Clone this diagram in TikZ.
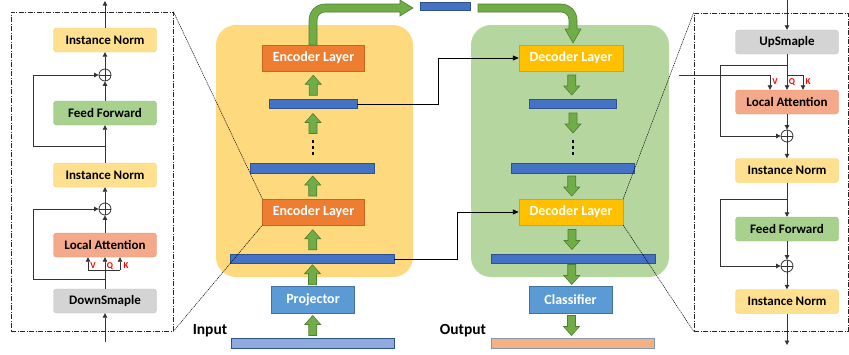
\documentclass[tikz,border=0pt]{standalone}
\usepackage{fontspec}
\setmainfont{Carlito}
\usetikzlibrary{arrows.meta}

\definecolor{encbg}{HTML}{FFD97D}
\definecolor{decbg}{HTML}{B6D6A0}
\definecolor{encc}{HTML}{ED7D31}
\definecolor{encd}{HTML}{C9651F}
\definecolor{decc}{HTML}{FFC000}
\definecolor{decd}{HTML}{D9A300}
\definecolor{barc}{HTML}{4472C4}
\definecolor{bard}{HTML}{2F528F}
\definecolor{projc}{HTML}{5B9BD5}
\definecolor{projd}{HTML}{41719C}
\definecolor{inc}{HTML}{8FAADC}
\definecolor{outc}{HTML}{F4B183}
\definecolor{outd}{HTML}{8497B0}
\definecolor{garc}{HTML}{70AD47}
\definecolor{gard}{HTML}{507E32}
\definecolor{normc}{HTML}{FFE08E}
\definecolor{normd}{HTML}{F5CC6A}
\definecolor{ffc}{HTML}{A9D18E}
\definecolor{ffd}{HTML}{92C177}
\definecolor{lac}{HTML}{F4A98A}
\definecolor{lad}{HTML}{EB9878}
\definecolor{smc}{HTML}{D4D4D4}
\definecolor{smd}{HTML}{C2C2C2}
\definecolor{lnc}{HTML}{333333}

\begin{document}
\begin{tikzpicture}[x=1pt,y=-1pt]

\tikzset{block/.style = {rounded corners=3pt,minimum width=103pt,minimum height=24pt,inner sep=0pt,font=\bfseries\fontsize{13}{15}\selectfont}}
\tikzset{inorm/.style = {block,fill=normc,draw=normd}}
\tikzset{ffwd/.style = {block,fill=ffc,draw=ffd}}
\tikzset{latt/.style = {block,fill=lac,draw=lad}}
\tikzset{samp/.style = {block,fill=smc,draw=smd}}
\tikzset{layer/.style = {minimum width=102pt,minimum height=26pt,inner sep=0pt,text=white,font=\bfseries\fontsize{14}{16}\selectfont}}
\tikzset{bar/.style = {fill=barc,draw=bard,minimum height=9pt,inner sep=0pt}}
\tikzset{gup/.pic = {\filldraw[fill=garc,draw=gard,line width=0.6pt] (-4,10) -- (-4,-1) -- (-8,-1) -- (0,-10) -- (8,-1) -- (4,-1) -- (4,10) -- cycle;}}
\tikzset{gdown/.pic = {\filldraw[fill=garc,draw=gard,line width=0.6pt] (-4,-10) -- (-4,1) -- (-8,1) -- (0,10) -- (8,1) -- (4,1) -- (4,-10) -- cycle;}}
\tikzset{dotcol/.pic = {\foreach \d in {-6,0,6} \fill (-1.4,\d-1.4) rectangle (1.4,\d+1.4);}}
\tikzset{sumnode/.style = {circle,draw=lnc,line width=0.8pt,minimum size=12pt,inner sep=0pt,
  path picture={\draw[lnc,line width=0.8pt] (path picture bounding box.north) -- (path picture bounding box.south)
  (path picture bounding box.west) -- (path picture bounding box.east);}}}
\tikzset{ln/.style = {draw=lnc,line width=0.8pt}}
\tikzset{arr/.style = {ln,-{Triangle[length=4.5pt,width=4.5pt]}}}
\tikzset{link/.style = {draw=black,line width=0.9pt,-{Triangle[length=6pt,width=5pt]}}}
\tikzset{zoomln/.style = {black,line width=0.5pt,dash pattern=on 1.2pt off 0.8pt}}
\tikzset{panel/.style = {draw=black!85,line width=0.7pt,dash pattern=on 5pt off 1.5pt on 1pt off 1.5pt,minimum width=162pt,minimum height=319pt,inner sep=0pt}}
\tikzset{qkv/.style = {text=red,inner sep=0pt,font=\bfseries\fontsize{9}{10}\selectfont}}
\tikzset{lbl/.style = {inner sep=0pt,font=\bfseries\fontsize{15.5}{17}\selectfont}}

\useasboundingbox (0,0) rectangle (849,354);

% backgrounds
\fill[encbg,rounded corners=20pt] (216,25) rectangle (413,277);
\fill[decbg,rounded corners=20pt] (471,25) rectangle (669,277);

% encoder
\node[layer,fill=encc,draw=encd] (enc2) at (313.5,58) {Encoder Layer};
\node[bar,minimum width=88pt] (e3) at (313,104) {};
\pic at (313,147.5) {dotcol};
\node[bar,minimum width=124pt,minimum height=10pt] (e2) at (312,168) {};
\node[layer,fill=encc,draw=encd] (enc1) at (313.5,212) {Encoder Layer};
\node[bar,minimum width=164pt] (e1) at (312,259) {};
\node[minimum width=83pt,minimum height=27pt,inner sep=0pt,fill=projc,draw=projd,text=white,font=\bfseries\fontsize{14}{16}\selectfont] (proj) at (313,299.5) {Projector};
\node[minimum width=163pt,minimum height=10pt,inner sep=0pt,fill=inc,draw=bard] (inp) at (312.5,343) {};
\node[lbl] (inlbl) at (210,331) {Input};

\path (enc2.south) -- (e3.north) pic[midway] {gup};
\pic at (313,123.5) {gup};
\path (enc1.north) -- (e2.south) pic[midway] {gup};
\path (e1.north) -- (enc1.south) pic[midway] {gup};
\path (proj.north) -- (e1.south) pic[midway] {gup};
\path (inp.north) -- (proj.south) pic[midway] {gup};

% decoder
\node[layer,fill=decc,draw=decd,minimum width=104pt] (dec2) at (571,58) {Decoder Layer};
\node[bar,minimum width=87pt] (d3) at (572.5,103.5) {};
\pic at (573,147.5) {dotcol};
\node[bar,minimum width=123pt,minimum height=10pt] (d2) at (572.5,168) {};
\node[layer,fill=decc,draw=decd,minimum width=104pt] (dec1) at (571,212) {Decoder Layer};
\node[bar,minimum width=164pt] (d1) at (573,258.5) {};
\node[minimum width=83pt,minimum height=27pt,inner sep=0pt,fill=projc,draw=projd,text=white,font=\bfseries\fontsize{14}{16}\selectfont] (cls) at (570.5,299.5) {Classifier};
\node[minimum width=163pt,minimum height=10pt,inner sep=0pt,fill=outc,draw=outd] (outp) at (572.5,343) {};
\node[lbl] (outlbl) at (463,331) {Output};

\path (dec2.south) -- (d3.north) pic[midway] {gdown};
\pic at (573,123) {gdown};
\path (d2.south) -- (dec1.north) pic[midway] {gdown};
\path (dec1.south) -- (d1.north) pic[midway] {gdown};
\path (d1.south) -- (cls.north) pic[midway] {gdown};
\path (cls.south) -- (outp.north) pic[midway] {gdown};

% memory bar and curved arrows
\node[bar,minimum width=50pt,minimum height=8pt] (mem) at (445,6) {};
\filldraw[fill=garc,draw=gard,line width=0.6pt] (309,45) -- (309,20) arc[start angle=180,end angle=270,radius=16]
  -- (400,4) -- (400,0) -- (413,8) -- (400,16) -- (400,12) -- (325,12)
  arc[start angle=270,end angle=180,radius=8] -- (317,45) -- cycle;
\filldraw[fill=garc,draw=gard,line width=0.6pt] (478,4) -- (561,4) arc[start angle=270,end angle=360,radius=16]
  -- (577,29) -- (581,29) -- (573,43) -- (565,29) -- (569,29) -- (569,20)
  arc[start angle=360,end angle=270,radius=8] -- (478,12) -- cycle;

% skip links
\draw[link] (e3.east) -- ++(81,0) |- (dec2.west);
\draw[link] (e1.east) -- ++(63,0) |- (dec1.west);

% left panel (encoder layer)
\node[panel] (lbox) at (92,171.5) {};
\node[inorm] (ln2) at (105,40) {Instance Norm};
\node[sumnode] (ls2) at (105,75) {};
\node[ffwd] (lff) at (105,113) {Feed Forward};
\node[inorm] (ln1) at (105,175) {Instance Norm};
\node[sumnode] (ls1) at (105,209) {};
\node[latt] (la) at (105,245) {Local Attention};
\node[samp] (ds) at (105,301) {DownSmaple};
\coordinate (lin) at (105,342);
\coordinate (lout) at (105,1);
\coordinate (lsp) at (105,270);
\coordinate (lv) at (88,270);
\coordinate (lk) at (120,270);
\coordinate (lr1) at (105,279);
\coordinate (lr2) at (105,146);

\draw[arr] (lin) -- (ds.south);
\draw[ln] (ds.north) -- (lsp);
\draw[ln] (lv) -- (lk);
\draw[arr] (lsp) -- (la.south);
\draw[arr] (lv) -- (lv |- la.south);
\draw[arr] (lk) -- (lk |- la.south);
\node[qkv] at (93,266) {V};
\node[qkv] at (110,266) {Q};
\node[qkv] at (126,266) {K};
\draw[arr] (lr1) -- (33,279) |- (ls1.west);
\draw[arr] (la.north) -- (ls1.south);
\draw[arr] (ls1.north) -- (ln1.south);
\draw[arr] (ln1.north) -- (lff.south);
\draw[arr] (lr2) -- (33,146) |- (ls2.west);
\draw[arr] (lff.north) -- (ls2.south);
\draw[arr] (ls2.north) -- (ln2.south);
\draw[arr] (ln2.north) -- (lout);

% right panel (decoder layer)
\node[panel,minimum width=154pt,minimum height=318pt] (rbox) at (771,172) {};
\node[samp] (us) at (787,42) {UpSmaple};
\node[latt] (ra) at (787,102) {Local Attention};
\node[sumnode] (rs1) at (787,136) {};
\node[inorm] (rn1) at (787,170.5) {Instance Norm};
\node[ffwd] (rff) at (787,229) {Feed Forward};
\node[sumnode] (rs2) at (787,266) {};
\node[inorm] (rn2) at (787,301.5) {Instance Norm};
\coordinate (rin) at (787,0);
\coordinate (rout) at (787,345);
\coordinate (rmem) at (679,75);
\coordinate (rq) at (787,75);
\coordinate (rr1) at (787,65);
\coordinate (rr2) at (787,199);

\draw[arr] (rin) -- (us.north);
\draw[arr] (us.south) -- (ra.north);
\draw[arr] (rmem) -| ([xshift=-17pt]ra.north);
\draw[arr] (rq) -| ([xshift=16pt]ra.north);
\node[qkv] at (775,82) {V};
\node[qkv] at (792,82) {Q};
\node[qkv] at (808,82) {K};
\draw[arr] (rr1) -- (720,65) |- (rs1.west);
\draw[arr] (ra.south) -- (rs1.north);
\draw[arr] (rs1.south) -- (rn1.north);
\draw[arr] (rn1.south) -- (rff.north);
\draw[arr] (rr2) -- (720,199) |- (rs2.west);
\draw[arr] (rff.south) -- (rs2.north);
\draw[arr] (rs2.south) -- (rn2.north);
\draw[arr] (rn2.south) -- (rout);

% zoom lines
\draw[zoomln] (lbox.north east) -- (enc1.north west);
\draw[zoomln] (lbox.south east) -- (enc1.south west);
\draw[zoomln] (dec1.north east) -- (rbox.north west);
\draw[zoomln] (dec1.south east) -- (rbox.south west);

\end{tikzpicture}
\end{document}
